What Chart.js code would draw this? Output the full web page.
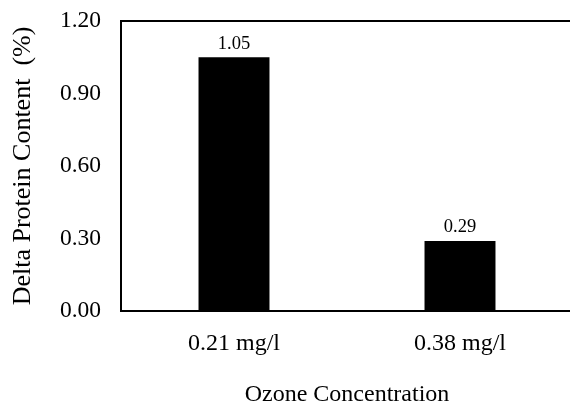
<!DOCTYPE html>
<html>
<head>
<meta charset="utf-8">
<script src="https://cdn.jsdelivr.net/npm/chart.js@4"></script>
<style>
  html, body { margin: 0; padding: 0; background: #fff; overflow: hidden; }
  #wrap { width: 576px; height: 403px; }
</style>
</head>
<body>
<div id="wrap"><canvas id="proteinChart"></canvas></div>
<script>
// data
const categories = ["0.21 mg/l", "0.38 mg/l"];
const deltaProtein = [1.05, 0.29];
const yTicks = [0, 0.3, 0.6, 0.9, 1.2];

const serif = "'Liberation Serif', 'Times New Roman', serif";

// values above bars + top border line
const barLabels = {
  id: "barLabels",
  afterDatasetsDraw(chart) {
    const ctx = chart.ctx;
    const meta = chart.getDatasetMeta(0);
    ctx.save();
    ctx.fillStyle = "#000";
    ctx.font = "18.5px " + serif;
    ctx.textAlign = "center";
    ctx.textBaseline = "alphabetic";
    meta.data.forEach((bar, i) => {
      ctx.fillText(deltaProtein[i].toFixed(2), bar.x, bar.y - 8.5);
    });
    const a = chart.chartArea;
    ctx.strokeStyle = "#000";
    ctx.lineWidth = 2;
    ctx.beginPath();
    ctx.moveTo(a.left - 1, a.top);
    ctx.lineTo(a.right + 10, a.top);
    ctx.stroke();
    ctx.restore();
  }
};

new Chart(document.getElementById("proteinChart"), {
  type: "bar",
  data: {
    labels: categories,
    datasets: [
      {
        label: "Delta Protein Content",
        data: deltaProtein,
        backgroundColor: "#000",
        barPercentage: 0.314,
        categoryPercentage: 1.0,
      },
    ],
  },
  options: {
    responsive: true,
    maintainAspectRatio: false,
    animation: false,
    layout: { padding: { top: 21, right: 3, bottom: 0, left: 0 } },
    plugins: { legend: { display: false }, tooltip: { enabled: false } },
    scales: {
      x: {
        afterFit(axis) { axis.height = 92; },
        grid: { display: false, drawTicks: false },
        border: { color: "#000", width: 2 },
        ticks: { color: "#000", font: { family: serif, size: 24 }, padding: 18 },
        title: {
          display: true,
          text: "Ozone Concentration",
          color: "#000",
          font: { family: serif, size: 24, lineHeight: 1 },
          padding: { top: 0, bottom: -4 },
        },
      },
      y: {
        min: 0,
        max: 1.2,
        afterFit(axis) {
          axis.width = 121;
          axis.paddingTop = 0;
          axis.paddingBottom = 0;
        },
        afterBuildTicks(axis) {
          axis.ticks = yTicks.map((v) => ({ value: v }));
        },
        grid: { display: false, drawTicks: false },
        border: { color: "#000", width: 2 },
        ticks: {
          color: "#000",
          font: { family: serif, size: 23.5 },
          padding: 20,
          callback: (v) => Number(v).toFixed(2),
        },
        title: {
          display: true,
          text: "Delta Protein Content  (%)",
          color: "#000",
          font: { family: serif, size: 26, lineHeight: 1.2 },
          padding: { top: 8, bottom: 0 },
        },
      },
    },
  },
  plugins: [barLabels],
});
</script>
</body>
</html>
